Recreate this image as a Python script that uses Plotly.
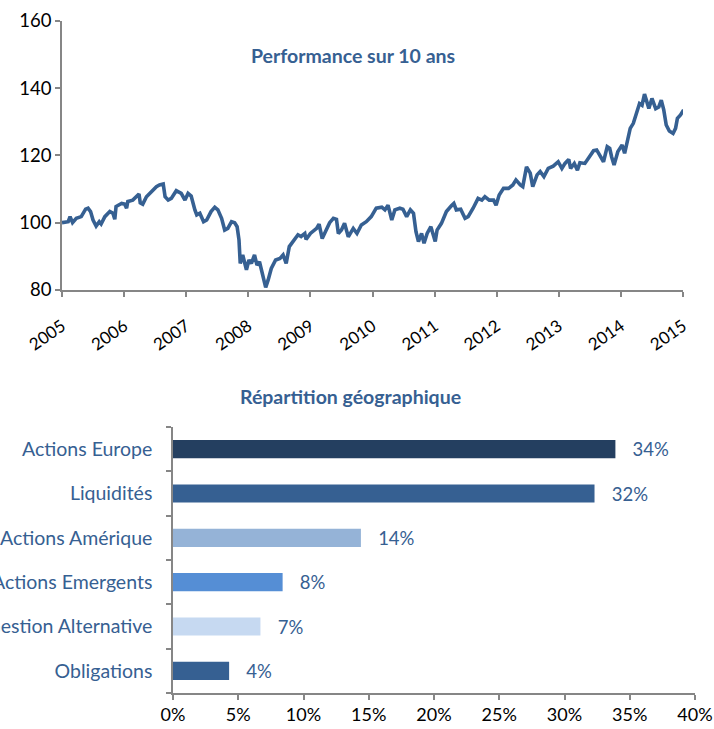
import plotly.graph_objects as go

# ---- Performance sur 10 ans ----
perf_dates = [
    2005.00, 2005.10, 2005.13, 2005.17, 2005.23, 2005.31, 2005.38, 2005.42, 2005.46, 2005.50,
    2005.55, 2005.60, 2005.63, 2005.69, 2005.77, 2005.82, 2005.85, 2005.87, 2005.96, 2006.01,
    2006.04, 2006.06, 2006.14, 2006.20, 2006.24, 2006.26, 2006.30, 2006.36, 2006.44, 2006.52,
    2006.57, 2006.63, 2006.66, 2006.71, 2006.76, 2006.84, 2006.92, 2006.98, 2007.03, 2007.08,
    2007.14, 2007.17, 2007.22, 2007.28, 2007.33, 2007.40, 2007.46, 2007.51, 2007.57, 2007.62,
    2007.67, 2007.73, 2007.78, 2007.82, 2007.85, 2007.87, 2007.91, 2007.97, 2008.01, 2008.05,
    2008.10, 2008.14, 2008.18, 2008.24, 2008.28, 2008.32, 2008.37, 2008.44, 2008.51, 2008.56,
    2008.61, 2008.66, 2008.72, 2008.80, 2008.85, 2008.91, 2008.93, 2009.00, 2009.10, 2009.14,
    2009.19, 2009.26, 2009.31, 2009.37, 2009.42, 2009.45, 2009.50, 2009.55, 2009.61, 2009.69,
    2009.75, 2009.82, 2009.90, 2009.98, 2010.06, 2010.15, 2010.20, 2010.25, 2010.31, 2010.36,
    2010.44, 2010.49, 2010.55, 2010.61, 2010.66, 2010.70, 2010.74, 2010.79, 2010.83, 2010.88,
    2010.94, 2011.01, 2011.04, 2011.11, 2011.19, 2011.27, 2011.31, 2011.35, 2011.42, 2011.49,
    2011.54, 2011.62, 2011.70, 2011.76, 2011.81, 2011.88, 2011.95, 2011.99, 2012.04, 2012.11,
    2012.19, 2012.26, 2012.31, 2012.38, 2012.42, 2012.48, 2012.54, 2012.58, 2012.65, 2012.70,
    2012.76, 2012.83, 2012.91, 2012.99, 2013.05, 2013.10, 2013.16, 2013.19, 2013.25, 2013.30,
    2013.34, 2013.42, 2013.49, 2013.56, 2013.61, 2013.66, 2013.72, 2013.78, 2013.82, 2013.85,
    2013.89, 2013.95, 2014.02, 2014.06, 2014.10, 2014.15, 2014.20, 2014.25, 2014.30, 2014.34,
    2014.38, 2014.41, 2014.45, 2014.50, 2014.56, 2014.61, 2014.65, 2014.69, 2014.73, 2014.78,
    2014.84, 2014.88, 2014.91, 2014.96, 2015.01,
]
perf_values = [
    100.0, 100.3, 101.8, 100.0, 101.3, 101.8, 104.0, 104.3, 103.3, 100.8,
    99.0, 100.3, 99.6, 101.8, 103.3, 102.8, 101.0, 104.8, 105.7, 105.5,
    104.3, 106.3, 106.7, 107.9, 108.5, 105.9, 105.5, 107.7, 109.2, 110.7,
    111.2, 111.5, 107.7, 106.7, 107.2, 109.5, 108.7, 106.7, 108.7, 107.9,
    103.8, 102.3, 102.8, 100.3, 100.8, 103.3, 104.6, 103.8, 101.3, 97.8,
    98.3, 100.3, 100.0, 98.8, 94.9, 87.9, 90.4, 86.0, 88.9, 87.9,
    90.4, 87.4, 88.4, 84.0, 80.8, 83.0, 86.4, 88.9, 89.4, 90.4,
    87.9, 92.9, 94.4, 96.4, 95.9, 96.8, 95.0, 96.8, 98.3, 99.6,
    95.3, 97.8, 100.0, 101.3, 101.0, 96.8, 97.8, 99.8, 95.8, 98.3,
    96.8, 99.3, 100.3, 101.8, 104.3, 104.6, 103.8, 105.2, 100.8, 103.8,
    104.3, 104.0, 101.8, 103.8, 102.8, 97.3, 94.4, 96.8, 93.9, 96.8,
    98.8, 94.4, 97.8, 99.8, 103.3, 105.0, 105.7, 103.8, 104.0, 101.3,
    101.8, 104.3, 107.2, 106.7, 107.7, 106.7, 106.7, 105.2, 108.2, 110.2,
    110.2, 111.2, 112.7, 111.2, 110.7, 116.6, 114.7, 110.7, 114.2, 115.2,
    113.7, 116.1, 116.8, 118.1, 116.1, 117.6, 118.8, 116.1, 117.6, 115.6,
    117.8, 117.6, 119.6, 121.4, 121.6, 120.1, 118.1, 122.6, 122.1, 119.6,
    117.1, 121.1, 123.1, 120.6, 123.6, 128.0, 129.5, 132.5, 135.4, 134.9,
    138.2, 136.4, 133.9, 136.9, 133.9, 134.4, 136.4, 133.5, 129.0, 127.2,
    126.5, 128.0, 131.0, 132.0, 133.5,
]
year_ticks = [2005, 2006, 2007, 2008, 2009, 2010, 2011, 2012, 2013, 2014, 2015]
perf_yticks = [80, 100, 120, 140, 160]

# ---- Répartition géographique ----
categories = ["Actions Europe", "Liquidités", "Actions Amérique",
              "Actions Emergents", "Gestion Alternative", "Obligations"]
weights = [33.9, 32.3, 14.4, 8.4, 6.7, 4.3]
pct_ticks = [0, 5, 10, 15, 20, 25, 30, 35, 40]

bar_colors = ["#243F60", "#366092", "#95B3D7", "#558ED5", "#C6D9F1", "#366092"]
BLUE = "#366092"
AXIS = "#868686"
FONT = "Lato, 'Open Sans', sans-serif"

W, H = 714, 729

fig = go.Figure()

fig.add_trace(go.Scatter(
    x=perf_dates, y=perf_values, mode="lines",
    line=dict(color=BLUE, width=3.6), xaxis="x", yaxis="y",
    showlegend=False, hoverinfo="skip",
))

fig.add_trace(go.Bar(
    y=categories, x=weights, orientation="h",
    marker=dict(color=bar_colors, line=dict(width=0)),
    text=["   %d%%" % round(v) for v in weights],
    textposition="outside", cliponaxis=False, constraintext="none",
    textfont=dict(color=BLUE, size=18.5, family=FONT),
    xaxis="x2", yaxis="y2", showlegend=False, hoverinfo="skip",
))

def px_x(p):
    return p / W

def px_y(p):
    return 1 - p / H

axis_common = dict(
    showgrid=False, zeroline=False, automargin=False,
    showline=True, linecolor=AXIS, linewidth=1.5,
    ticks="outside", ticklen=5, tickcolor=AXIS, tickwidth=1.5,
)

fig.update_layout(
    width=W, height=H,
    margin=dict(l=0, r=0, t=0, b=0),
    paper_bgcolor="white", plot_bgcolor="white",
    font=dict(family=FONT, color="black"),
    bargap=0.59,
    xaxis=dict(
        domain=[px_x(62), px_x(683)], range=[2005, 2015],
        tickmode="array", tickvals=year_ticks, ticktext=[str(t) for t in year_ticks],
        tickangle=-35, tickfont=dict(size=17, color="black"),
        ticklabelstandoff=13,
        anchor="y", **axis_common,
    ),
    yaxis=dict(
        domain=[px_y(290), px_y(20.7)], range=[80, 160],
        tickmode="array", tickvals=perf_yticks,
        tickfont=dict(size=18.5, color="black"),
        anchor="x", **axis_common,
    ),
    xaxis2=dict(
        domain=[px_x(173), px_x(695)], range=[0, 40],
        tickmode="array", tickvals=pct_ticks,
        ticktext=["%d%%" % t for t in pct_ticks],
        tickfont=dict(size=18, color="black"),
        anchor="y2", **axis_common,
    ),
    yaxis2=dict(
        domain=[px_y(693), px_y(427)],
        type="category", categoryorder="array",
        categoryarray=list(reversed(categories)),
        tickfont=dict(size=19.5, color=BLUE),
        tickson="boundaries", ticklabelstandoff=15,
        anchor="x2", **axis_common,
    ),
    annotations=[
        dict(text="<b>Performance sur 10 ans</b>", x=px_x(353), y=px_y(42),
             xref="paper", yref="paper", showarrow=False,
             font=dict(size=19.5, color=BLUE, family=FONT)),
        dict(text="<b>Répartition géographique</b>", x=px_x(350), y=px_y(396),
             xref="paper", yref="paper", showarrow=False,
             font=dict(size=19.5, color=BLUE, family=FONT)),
    ],
)

fig.write_html("out.html", config={"displayModeBar": False},
               post_script="document.body.style.margin='0';")
